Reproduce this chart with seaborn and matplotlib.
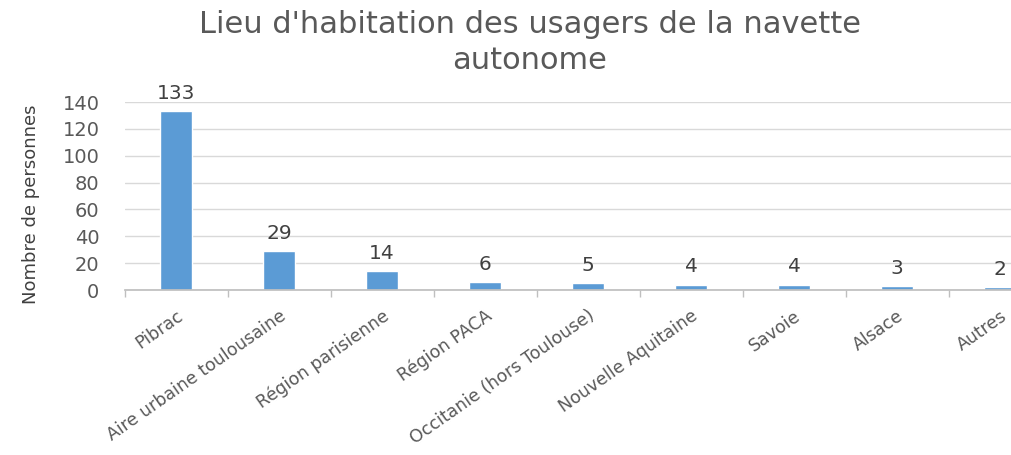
import matplotlib
matplotlib.use("Agg")
import matplotlib.pyplot as plt
import seaborn as sns
import numpy as np
import pandas as pd

categories = ["Pibrac", "Aire urbaine toulousaine", "Région parisienne", "Région PACA",
              "Occitanie (hors Toulouse)", "Nouvelle Aquitaine", "Savoie", "Alsace", "Autres"]
values = [133, 29, 14, 6, 5, 4, 4, 3, 2]
yticks = [0, 20, 40, 60, 80, 100, 120, 140]
title = "Lieu d'habitation des usagers de la navette\nautonome"
ylabel = "Nombre de personnes"

sns.set_theme(style="white")
plt.rcParams['font.family'] = ['DejaVu Sans']

df = pd.DataFrame({"cat": categories, "val": values})

fig = plt.figure(figsize=(10.11, 4.55), dpi=100)
ax = fig.add_axes([124.5/1011, 1-290/455, 927/1011, 188/455])
sns.barplot(data=df, x="cat", y="val", color="#5B9BD5", width=0.31, ax=ax, saturation=1)

ax.set_ylim(0, 140)
ax.set_xlim(-0.5, len(categories)-0.5)
ax.set_yticks(yticks)
ax.set_yticklabels([str(t) for t in yticks], fontsize=14, color="#595959")
ax.yaxis.grid(True, color="#D9D9D9", linewidth=1)
ax.set_axisbelow(True)
for s in ["top", "right", "left"]:
    ax.spines[s].set_visible(False)
ax.spines["bottom"].set_color("#BFBFBF")
ax.tick_params(axis="y", length=0, pad=18)

ax.set_xticks(range(len(categories)))
ax.set_xticklabels(categories, rotation=35, ha="right", rotation_mode="anchor",
                   fontsize=12.5, color="#595959")
ax.tick_params(axis="x", length=0, pad=12)
ax.set_xticks(np.arange(-0.5, len(categories), 1), minor=True)
ax.tick_params(axis="x", which="minor", length=5, color="#BFBFBF", width=1, bottom=True)

ax.set_xlabel("")
ax.set_ylabel("")
fig.text(31/1011, 1-204/455, ylabel, rotation=90, ha="center", va="center",
         fontsize=13, color="#404040", family=["DejaVu Sans Condensed"])

for i, v in enumerate(values):
    ax.annotate(str(v), (i, v), xytext=(0, 6), textcoords="offset points",
                ha="center", va="bottom", fontsize=14.5, color="#404040")

fig.text(530/1011, 1-69/455, title, ha="center", va="baseline", fontsize=22,
         color="#595959", linespacing=1.3)

fig.savefig("out.png", dpi=100)
